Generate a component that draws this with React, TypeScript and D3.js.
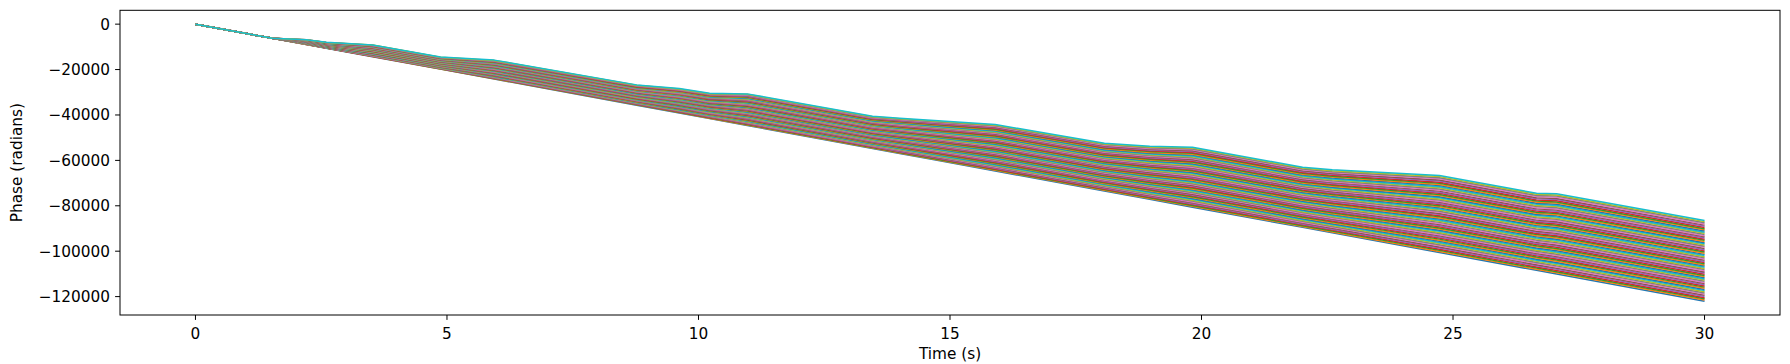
import React, { useEffect } from 'react';
import * as d3 from 'd3';

// knot times (s)
const knotTimes = [0, 1.53, 2.2, 2.6, 3.52, 4.87, 5.94, 8.77, 9.62, 10.22, 10.97, 13.46, 14.0, 14.69, 15.9, 18.07, 18.97, 19.82, 22.01, 22.6, 24.73, 26.66, 27.06, 30];
// lowest trace (steady phase drift)
const fastestPhase = [0, -6220, -8950, -10570, -14320, -19810, -24160, -35670, -39120, -41560, -44610, -54740, -56940, -59740, -64670, -73490, -77150, -80610, -89510, -91910, -100580, -108420, -110050, -122000];
// highest trace (with the pauses)
const slowestPhase = [0, -6250, -6820, -8010, -9150, -14480, -15840, -26750, -28380, -30450, -30710, -40570, -41450, -42460, -44200, -52450, -53770, -54210, -63010, -64150, -66660, -74450, -74710, -86460];
const traceCount = 70;

const xTicks = [0, 5, 10, 15, 20, 25, 30];
const yTicks = [0, -20000, -40000, -60000, -80000, -100000, -120000];
const palette = ['#1f77b4', '#ff7f0e', '#2ca02c', '#d62728', '#9467bd', '#8c564b', '#e377c2', '#7f7f7f', '#bcbd22', '#17becf'];

const W = 1790;
const H = 364;
const plot = { left: 120, right: 1780, top: 10.3, bottom: 315 };
const font = 'DejaVu Sans, sans-serif';

const fmt = (v: number) => (v < 0 ? '\u2212' + Math.abs(v) : String(v));

export default function App() {
  useEffect(() => {
    document.body.style.margin = '0';
  }, []);

  const tMin = d3.min(knotTimes) as number;
  const tMax = d3.max(knotTimes) as number;
  const vMin = d3.min(fastestPhase) as number;
  const vMax = d3.max(slowestPhase) as number;
  const tPad = (tMax - tMin) * 0.05;
  const vPad = (vMax - vMin) * 0.05;

  const x = d3.scaleLinear().domain([tMin - tPad, tMax + tPad]).range([plot.left, plot.right]);
  const y = d3.scaleLinear().domain([vMin - vPad, vMax + vPad]).range([plot.bottom, plot.top]);

  const line = d3.line<[number, number]>()
    .x(d => x(d[0]))
    .y(d => y(d[1]));

  // every trace sits between the lowest and highest one
  const traces = d3.range(traceCount).map(k => {
    const w = k / (traceCount - 1);
    return knotTimes.map((t, i) => [t, fastestPhase[i] + w * (slowestPhase[i] - fastestPhase[i])] as [number, number]);
  });

  return (
    <svg width={W} height={H} style={{ display: 'block', background: '#fff' }}>
      <g>
        {traces.map((pts, k) => (
          <path key={k} d={line(pts) || ''} fill="none" stroke={palette[k % 10]} strokeWidth={1.5} strokeLinejoin="round" />
        ))}
      </g>
      <rect x={plot.left} y={plot.top} width={plot.right - plot.left} height={plot.bottom - plot.top}
        fill="none" stroke="#000" strokeWidth={1} />
      {xTicks.map(t => (
        <g key={t}>
          <line x1={x(t)} x2={x(t)} y1={plot.bottom} y2={plot.bottom + 4.9} stroke="#000" strokeWidth={1} />
          <text x={x(t)} y={338.5} textAnchor="middle" fontFamily={font} fontSize={15.3} fill="#000">{fmt(t)}</text>
        </g>
      ))}
      {yTicks.map(v => (
        <g key={v}>
          <line x1={plot.left - 4.9} x2={plot.left} y1={y(v)} y2={y(v)} stroke="#000" strokeWidth={1} />
          <text x={110} y={y(v)} dy="0.36em" textAnchor="end" fontFamily={font} fontSize={15.3} fill="#000">{fmt(v)}</text>
        </g>
      ))}
      <text x={(plot.left + plot.right) / 2} y={359} textAnchor="middle" fontFamily={font} fontSize={15.3} fill="#000">Time (s)</text>
      <text transform={`translate(22,${(plot.top + plot.bottom) / 2}) rotate(-90)`} textAnchor="middle" fontFamily={font} fontSize={15.3} fill="#000">Phase (radians)</text>
    </svg>
  );
}
